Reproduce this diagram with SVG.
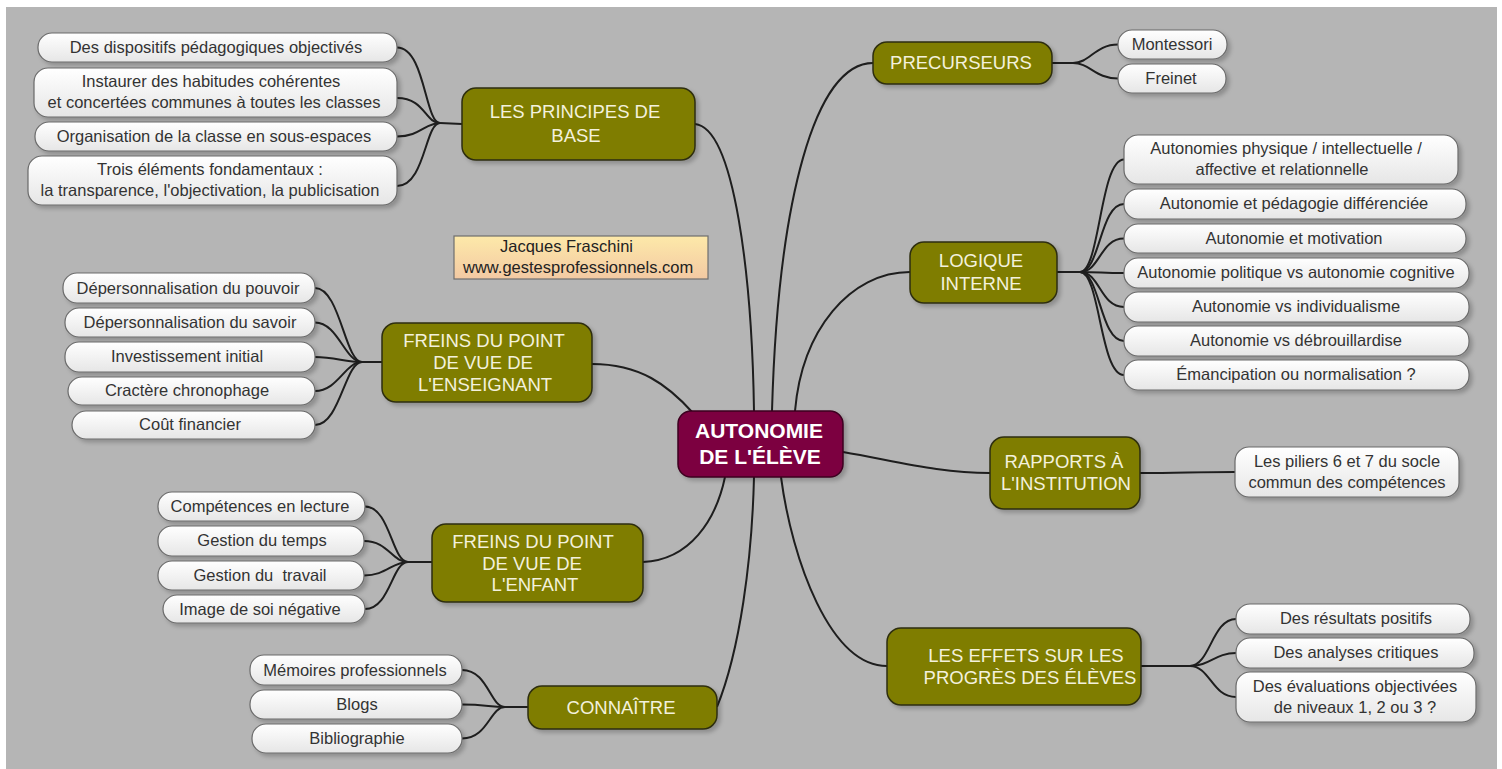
<svg xmlns="http://www.w3.org/2000/svg" width="1502" height="769" viewBox="0 0 1502 769">
<style>
.leaf rect{fill:url(#lg);stroke:#6a6a6a;stroke-width:1.2;filter:url(#sh)}
.leaf text{font-family:"Liberation Sans",Arial,sans-serif;font-size:16.5px;fill:#333;text-anchor:middle}
.br rect{fill:#7f7d00;stroke:#2e2e10;stroke-width:1.5;filter:url(#sh)}
.br text{font-family:"Liberation Sans",Arial,sans-serif;font-size:18.5px;fill:#f3f1dc;text-anchor:middle}
.ctr rect{fill:#7b0140;stroke:#3e0020;stroke-width:1.5;filter:url(#sh)}
.ctr text{font-family:"Liberation Sans",Arial,sans-serif;font-size:21px;font-weight:bold;fill:#fff;text-anchor:middle}
.auth text{font-family:"Liberation Sans",Arial,sans-serif;font-size:16.5px;fill:#222}
#connectors path{fill:none;stroke:#1e1e1e;stroke-width:2}
</style>
<defs>
<linearGradient id="lg" x1="0" y1="0" x2="0" y2="1"><stop offset="0" stop-color="#ffffff"/><stop offset="1" stop-color="#e6e6e6"/></linearGradient>
<linearGradient id="ag" x1="0" y1="0" x2="0" y2="1"><stop offset="0" stop-color="#fde9a9"/><stop offset="1" stop-color="#f3c9a3"/></linearGradient>
<filter id="sh" x="-10%" y="-20%" width="130%" height="160%"><feDropShadow dx="3" dy="3" stdDeviation="2" flood-color="#000" flood-opacity="0.22"/></filter>
</defs>
<rect x="0" y="0" width="1502" height="769" fill="#fff"/>
<rect x="6" y="7" width="1491" height="762" fill="#b5b5b5"/>

<g id="connectors">
<path d="M695,124 C735,128 752,280 754,411"/>
<path d="M873,63 C815,63 778,200 772,411"/>
<path d="M910,272 C850,272 802,330 795,411"/>
<path d="M592,364 C640,364 668,385 693,413"/>
<path d="M843,452 C900,462 940,473 990,473"/>
<path d="M643,562 C690,560 716,520 725,477"/>
<path d="M717,707 C740,650 752,560 754,477"/>
<path d="M781,477 C792,560 830,666 887,666"/>
<path d="M440,123 L462,124"/>
<path d="M397,47.5 C425,47.5 425,123 440,123"/>
<path d="M397,98 C425,98 425,123 440,123"/>
<path d="M397,136.5 C420,136.5 425,123 440,123"/>
<path d="M397,186 C425,186 425,123 440,123"/>
<path d="M362,362 L382,362"/>
<path d="M315,288 C340,288 345,362 362,362"/>
<path d="M315,322.5 C338,322.5 345,362 362,362"/>
<path d="M315,357 C335,357 345,362 362,362"/>
<path d="M315,391 C338,391 345,362 362,362"/>
<path d="M315,425 C340,425 345,362 362,362"/>
<path d="M408,562 L432,562"/>
<path d="M365,506.5 C390,506.5 392,562 408,562"/>
<path d="M364,541 C388,541 392,562 408,562"/>
<path d="M364,575.5 C386,575.5 392,562 408,562"/>
<path d="M365,609 C390,609 392,562 408,562"/>
<path d="M505,707 L528,707"/>
<path d="M462,670 C488,670 490,707 505,707"/>
<path d="M462,704.5 C485,704.5 490,707 505,707"/>
<path d="M462,738.5 C488,738.5 490,707 505,707"/>
<path d="M1052,63 L1073,63"/>
<path d="M1073,63 C1090,63 1095,44.5 1118,44.5"/>
<path d="M1073,63 C1090,63 1095,78.5 1118,78.5"/>
<path d="M1057,272 L1080,272"/>
<path d="M1080,272 C1100,272 1100,159.5 1124,159.5"/>
<path d="M1080,272 C1100,272 1100,204 1124,204"/>
<path d="M1080,272 C1100,272 1100,238.5 1124,238.5"/>
<path d="M1080,272 C1100,272 1102,273 1124,273"/>
<path d="M1080,272 C1100,272 1100,307 1124,307"/>
<path d="M1080,272 C1100,272 1100,341 1124,341"/>
<path d="M1080,272 C1100,272 1100,375 1124,375"/>
<path d="M1140,473 C1180,473 1195,472 1235,472"/>
<path d="M1141,666 L1190,666"/>
<path d="M1190,666 C1210,666 1212,619 1236,619"/>
<path d="M1190,666 C1210,666 1215,653 1236,653"/>
<path d="M1190,666 C1210,666 1212,697 1236,697"/>
</g>

<g id="n-center" class="ctr"><rect x="678" y="411" width="165" height="66" rx="13"/><text x="759" y="438">AUTONOMIE</text><text x="760" y="464">DE L'ÉLÈVE</text></g>

<g id="n-principes" class="br"><rect x="462" y="88" width="233" height="72" rx="14"/><text x="575" y="118">LES PRINCIPES DE</text><text x="576" y="142">BASE</text></g>
<g id="n-enseignant" class="br"><rect x="382" y="323" width="210" height="79" rx="14"/><text x="484" y="347">FREINS DU POINT</text><text x="483" y="369">DE VUE DE</text><text x="485" y="391">L'ENSEIGNANT</text></g>
<g id="n-enfant" class="br"><rect x="432" y="524" width="211" height="78" rx="14"/><text x="533" y="548">FREINS DU POINT</text><text x="532" y="570">DE VUE DE</text><text x="535" y="591">L'ENFANT</text></g>
<g id="n-connaitre" class="br"><rect x="528" y="686" width="189" height="43" rx="14"/><text x="621" y="714">CONNAÎTRE</text></g>
<g id="n-precurseurs" class="br"><rect x="873" y="42" width="179" height="42" rx="14"/><text x="961" y="69">PRECURSEURS</text></g>
<g id="n-logique" class="br"><rect x="910" y="242" width="147" height="61" rx="14"/><text x="981" y="267">LOGIQUE</text><text x="981" y="290">INTERNE</text></g>
<g id="n-rapports" class="br"><rect x="990" y="437" width="150" height="72" rx="14"/><text x="1064" y="468">RAPPORTS À</text><text x="1066" y="490">L'INSTITUTION</text></g>
<g id="n-effets" class="br"><rect x="887" y="628" width="254" height="77" rx="14"/><text x="1026" y="662">LES EFFETS SUR LES</text><text x="1030" y="684">PROGRÈS DES ÉLÈVES</text></g>

<g id="n-author" class="auth"><rect x="454" y="236" width="254" height="43" fill="url(#ag)" stroke="#6e6e6e" stroke-width="1.2"/><text x="500" y="252">Jacques Fraschini</text><text x="463" y="273">www.gestesprofessionnels.com</text></g>

<g id="l-p1" class="leaf"><rect x="38" y="33" width="359" height="29" rx="14"/><text x="216" y="53">Des dispositifs pédagogiques objectivés</text></g>
<g id="l-p2" class="leaf"><rect x="34" y="68" width="363" height="49" rx="14"/><text x="211" y="87">Instaurer des habitudes cohérentes</text><text x="214" y="108">et concertées communes à toutes les classes</text></g>
<g id="l-p3" class="leaf"><rect x="35" y="122" width="362" height="29" rx="14"/><text x="214" y="142">Organisation de la classe en sous-espaces</text></g>
<g id="l-p4" class="leaf"><rect x="28" y="156" width="369" height="49" rx="14"/><text x="210" y="175">Trois éléments fondamentaux :</text><text x="210" y="196">la transparence, l'objectivation, la publicisation</text></g>

<g id="l-e1" class="leaf"><rect x="63" y="273" width="252" height="30" rx="14"/><text x="188" y="294">Dépersonnalisation du pouvoir</text></g>
<g id="l-e2" class="leaf"><rect x="65" y="308" width="250" height="29" rx="14"/><text x="190" y="328">Dépersonnalisation du savoir</text></g>
<g id="l-e3" class="leaf"><rect x="65" y="342" width="250" height="30" rx="14"/><text x="187" y="362">Investissement initial</text></g>
<g id="l-e4" class="leaf"><rect x="68" y="377" width="247" height="28" rx="14"/><text x="187" y="396">Cractère chronophage</text></g>
<g id="l-e5" class="leaf"><rect x="72" y="411" width="243" height="28" rx="14"/><text x="190" y="430">Coût financier</text></g>

<g id="l-f1" class="leaf"><rect x="158" y="492" width="207" height="29" rx="14"/><text x="260" y="512">Compétences en lecture</text></g>
<g id="l-f2" class="leaf"><rect x="158" y="526" width="206" height="30" rx="14"/><text x="262" y="546">Gestion du temps</text></g>
<g id="l-f3" class="leaf"><rect x="158" y="561" width="206" height="29" rx="14"/><text x="260" y="581" xml:space="preserve">Gestion du  travail</text></g>
<g id="l-f4" class="leaf"><rect x="163" y="595" width="202" height="28" rx="14"/><text x="260" y="615">Image de soi négative</text></g>

<g id="l-c1" class="leaf"><rect x="250" y="655" width="212" height="30" rx="14"/><text x="355" y="676">Mémoires professionnels</text></g>
<g id="l-c2" class="leaf"><rect x="250" y="690" width="212" height="29" rx="14"/><text x="357" y="710">Blogs</text></g>
<g id="l-c3" class="leaf"><rect x="252" y="724" width="210" height="29" rx="14"/><text x="357" y="744">Bibliographie</text></g>

<g id="l-pr1" class="leaf"><rect x="1118" y="30" width="109" height="29" rx="14"/><text x="1172" y="50">Montessori</text></g>
<g id="l-pr2" class="leaf"><rect x="1118" y="64" width="108" height="29" rx="14"/><text x="1171" y="84">Freinet</text></g>

<g id="l-l1" class="leaf"><rect x="1124" y="135" width="334" height="49" rx="14"/><text x="1286" y="154">Autonomies physique / intellectuelle /</text><text x="1282" y="175">affective et relationnelle</text></g>
<g id="l-l2" class="leaf"><rect x="1124" y="189" width="342" height="30" rx="14"/><text x="1294" y="209">Autonomie et pédagogie différenciée</text></g>
<g id="l-l3" class="leaf"><rect x="1124" y="224" width="342" height="29" rx="14"/><text x="1294" y="244">Autonomie et motivation</text></g>
<g id="l-l4" class="leaf"><rect x="1124" y="258" width="345" height="30" rx="14"/><text x="1296" y="278">Autonomie politique vs autonomie cognitive</text></g>
<g id="l-l5" class="leaf"><rect x="1124" y="292" width="345" height="30" rx="14"/><text x="1296" y="312">Autonomie vs individualisme</text></g>
<g id="l-l6" class="leaf"><rect x="1124" y="326" width="345" height="30" rx="14"/><text x="1296" y="346">Autonomie vs débrouillardise</text></g>
<g id="l-l7" class="leaf"><rect x="1124" y="360" width="345" height="30" rx="14"/><text x="1296" y="380">Émancipation ou normalisation ?</text></g>

<g id="l-r1" class="leaf"><rect x="1235" y="447" width="224" height="50" rx="14"/><text x="1347" y="467">Les piliers 6 et 7 du socle</text><text x="1347" y="488">commun des compétences</text></g>

<g id="l-ef1" class="leaf"><rect x="1236" y="604" width="234" height="30" rx="14"/><text x="1356" y="624">Des résultats positifs</text></g>
<g id="l-ef2" class="leaf"><rect x="1236" y="638" width="238" height="30" rx="14"/><text x="1356" y="658">Des analyses critiques</text></g>
<g id="l-ef3" class="leaf"><rect x="1236" y="672" width="240" height="50" rx="14"/><text x="1355" y="692">Des évaluations objectivées</text><text x="1355" y="713">de niveaux 1, 2 ou 3 ?</text></g>
</svg>
